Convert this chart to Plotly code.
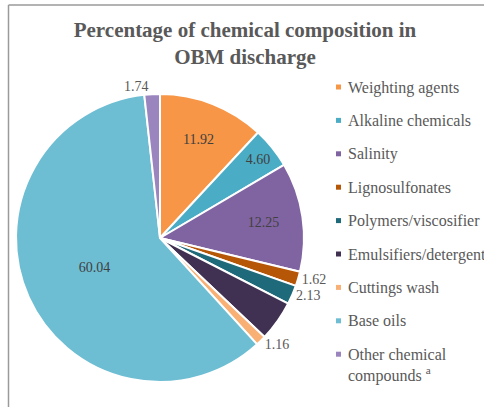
import plotly.graph_objects as go

# OBM discharge composition (%)
categories = [
    "Weighting agents",
    "Alkaline chemicals",
    "Salinity",
    "Lignosulfonates",
    "Polymers/viscosifier",
    "Emulsifiers/detergent",
    "Cuttings wash",
    "Base oils",
    "Other chemical compounds",
]
legend_labels = categories[:-1] + ["Other chemical<br>compounds <sup>a</sup>"]
values = [11.92, 4.60, 12.25, 1.62, 2.13, 4.54, 1.16, 60.04, 1.74]
shown = [True, True, True, True, True, False, True, True, True]
label_pos = ["inside", "inside", "inside", "outside", "outside", "none",
             "outside", "inside", "outside"]
colors = ["#F79646", "#4BACC6", "#8064A2", "#B65708", "#1F6A7A",
          "#403152", "#F9B074", "#6DBDD3", "#9A85BE"]

text_gray = "#595959"
serif = "Liberation Serif"

texts = [f"{v:.2f}" if s else " " for v, s in zip(values, shown)]

fig = go.Figure(go.Pie(
    labels=categories,
    values=values,
    text=texts,
    textinfo="text",
    textposition=label_pos,
    insidetextorientation="horizontal",
    sort=False,
    direction="clockwise",
    rotation=0,
    marker=dict(colors=colors, line=dict(color="white", width=2)),
    textfont=dict(family=serif, size=14, color="#404040"),
    outsidetextfont=dict(family=serif, size=14, color=text_gray),
    domain=dict(x=[16 / 484, 304 / 484], y=[1 - 382 / 407, 1 - 94 / 407]),
    showlegend=False,
    hoverinfo="label+value",
))

# Hand-built legend: small square swatch plus label per category
shapes = []
annotations = []
y0, dy = 87, 33.4
for i, (lab, col) in enumerate(zip(legend_labels, colors)):
    yc = y0 + dy * i
    shapes.append(dict(type="rect", xref="paper", yref="paper",
                       x0=336 / 484, x1=341 / 484,
                       y0=1 - (yc + 2.5) / 407, y1=1 - (yc - 2.5) / 407,
                       fillcolor=col, line=dict(width=0)))
    annotations.append(dict(x=346 / 484, y=1 - (yc - 10.5) / 407,
                            xref="paper", yref="paper",
                            xanchor="left", yanchor="top", align="left",
                            showarrow=False, text=lab,
                            font=dict(family=serif, size=16, color=text_gray)))

# Frame lines along the top and left edge
shapes.append(dict(type="line", xref="paper", yref="paper",
                   x0=8.5 / 484, x1=1, y0=1 - 5 / 407, y1=1 - 5 / 407,
                   line=dict(color="#9a9a9a", width=1.5)))
shapes.append(dict(type="line", xref="paper", yref="paper",
                   x0=8.5 / 484, x1=8.5 / 484, y0=0, y1=1 - 5 / 407,
                   line=dict(color="#9a9a9a", width=1.5)))

fig.update_layout(
    width=484, height=407,
    margin=dict(l=0, r=0, t=0, b=0),
    paper_bgcolor="white",
    plot_bgcolor="white",
    font=dict(family=serif, color=text_gray),
    title=dict(
        text="<b>Percentage of chemical composition in<br>OBM discharge</b>",
        x=245 / 484, xanchor="center",
        y=1 - 37 / 407, yanchor="top",
        font=dict(family=serif, size=21, color=text_gray),
    ),
    shapes=shapes,
    annotations=annotations,
)

fig.write_html("out.html")
